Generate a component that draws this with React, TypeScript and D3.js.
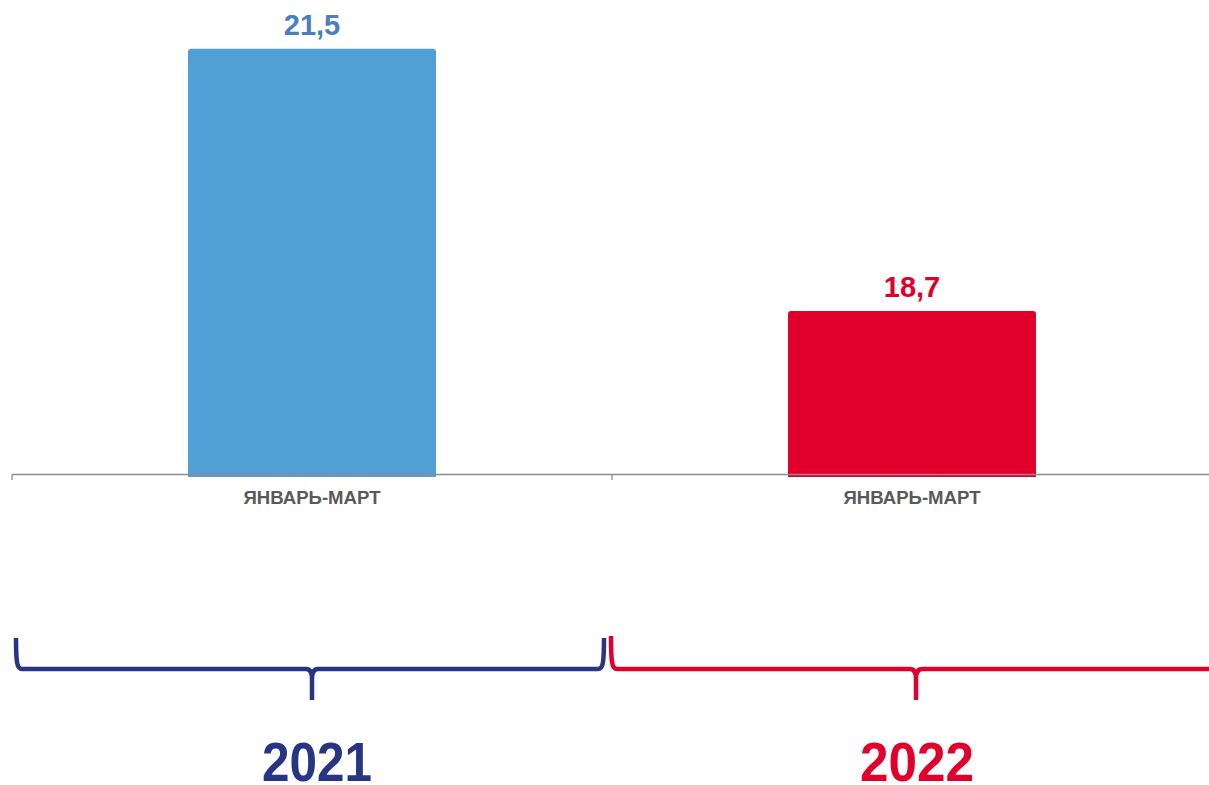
import React from "react";
import * as d3 from "d3";

const years = ["2021", "2022"];
const periods = ["ЯНВАРЬ-МАРТ", "ЯНВАРЬ-МАРТ"];
const values = [21.5, 18.7];
const valueLabels = ["21,5", "18,7"];

const W = 1209;
const H = 785;
const FONT = "'Liberation Sans', Arial, sans-serif";
const barColors = ["#529FD7", "#E0002B"];
const labelColors = ["#4A7EBD", "#E0002B"];
const braceColors = ["#283583", "#E0002B"];

export default function App() {
  const x = d3
    .scaleBand<string>()
    .domain(years)
    .range([12, 1212])
    .paddingInner(0.5867)
    .paddingOuter(0.5867 / 2);
  const y = d3.scaleLinear().domain([16.95, 22]).range([475, 2]);
  const baseY = y(16.95);
  const bw = x.bandwidth();
  const step = x.step();

  const barPath = (x0: number, y0: number, w: number, y1: number, r: number) =>
    `M${x0},${y1} L${x0},${y0 + r} Q${x0},${y0} ${x0 + r},${y0} L${x0 + w - r},${y0} Q${x0 + w},${y0} ${x0 + w},${y0 + r} L${x0 + w},${y1} Z`;

  const bracePath = (x0: number, x1: number, cx: number, top: number) => {
    const hy = 669;
    const tip = 700;
    let d = `M${x0},${top} C${x0},${hy - 6} ${x0 + 1},${hy} ${x0 + 6},${hy} L${cx - 6},${hy} Q${cx},${hy} ${cx},${hy + 10} L${cx},${tip}`;
    d += ` M${cx},${hy + 10} Q${cx},${hy} ${cx + 6},${hy}`;
    if (x1 < W) {
      d += ` L${x1 - 6},${hy} C${x1 - 1},${hy} ${x1},${hy - 6} ${x1},${top}`;
    } else {
      d += ` L${x1},${hy}`;
    }
    return d;
  };

  return (
    <svg
      width={W}
      height={H}
      style={{ position: "absolute", left: 0, top: 0, background: "#fff" }}
      fontFamily={FONT}
    >
      {years.map((yr, i) => {
        const bx = x(yr)!;
        const cx = bx + bw / 2;
        const top = y(values[i]);
        return (
          <g key={yr}>
            <path d={barPath(bx, top, bw, baseY + 2, 3)} fill={barColors[i]} />
            <text
              x={cx}
              y={top - 14}
              textAnchor="middle"
              fontSize={29}
              fontWeight="bold"
              fill={labelColors[i]}
            >
              {valueLabels[i]}
            </text>
            <text
              x={cx}
              y={504}
              textAnchor="middle"
              fontSize={18}
              fontWeight="bold"
              fill="#595959"
              textLength={137}
              lengthAdjust="spacingAndGlyphs"
            >
              {periods[i]}
            </text>
          </g>
        );
      })}
      <line x1={12} x2={W} y1={baseY - 0.5} y2={baseY - 0.5} stroke="#8C8C8C" strokeWidth={1.3} />
      {years.map((yr, i) => {
        const tx = 12 + i * step;
        return <line key={"t" + yr} x1={tx} x2={tx} y1={baseY - 0.5} y2={baseY + 5} stroke="#8C8C8C" strokeWidth={1.3} />;
      })}
      {years.map((yr, i) => {
        const cx = x(yr)! + bw / 2;
        const gx0 = i === 0 ? 16 : 611;
        const gx1 = i === 0 ? 604 : W + 10;
        const top = i === 0 ? 638 : 636;
        return (
          <g key={"b" + yr}>
            <path
              d={bracePath(gx0, gx1, cx + (i === 0 ? 0 : 4), top)}
              fill="none"
              stroke={braceColors[i]}
              strokeWidth={4.5}
            />
            <text
              x={cx + 5}
              y={781}
              textAnchor="middle"
              fontSize={55}
              fontWeight="bold"
              fill={braceColors[i]}
              textLength={i === 0 ? 110 : 114}
              lengthAdjust="spacingAndGlyphs"
            >
              {yr}
            </text>
          </g>
        );
      })}
    </svg>
  );
}
